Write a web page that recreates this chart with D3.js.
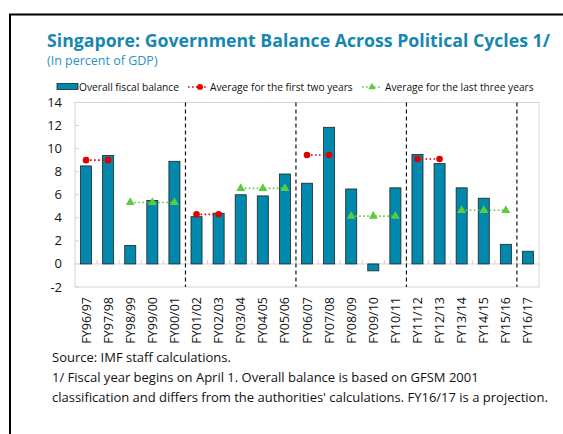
<!DOCTYPE html>
<html>
<head>
<meta charset="utf-8">
<script src="https://cdn.jsdelivr.net/npm/d3@7"></script>
<style>
body { margin: 0; background: #fff; }
svg { display: block; font-family: "Open Sans", "Noto Sans", sans-serif; }
</style>
</head>
<body>
<div id="chart"></div>
<script>
var years = ["FY96/97","FY97/98","FY98/99","FY99/00","FY00/01","FY01/02","FY02/03","FY03/04","FY04/05","FY05/06",
    "FY06/07","FY07/08","FY08/09","FY09/10","FY10/11","FY11/12","FY12/13","FY13/14","FY14/15","FY15/16","FY16/17"];
var balance = [8.5,9.4,1.6,5.5,8.9,4.1,4.4,6.0,5.9,7.8,7.0,11.85,6.5,-0.6,6.6,9.5,8.7,6.6,5.7,1.7,1.1];
// averages for the first two years of each cycle
var firstTwoYears = [["FY96/97","FY97/98"],["FY01/02","FY02/03"],["FY06/07","FY07/08"],["FY11/12","FY12/13"]];
var firstTwoAvg = [9.0,4.3,9.45,9.1];
// averages for the last three years of each cycle
var lastThreeYears = [["FY98/99","FY99/00","FY00/01"],["FY03/04","FY04/05","FY05/06"],["FY08/09","FY09/10","FY10/11"],["FY13/14","FY14/15","FY15/16"]];
var lastThreeAvg = [5.33,6.55,4.15,4.65];
var cycleStarts = ["FY01/02","FY06/07","FY11/12","FY16/17"];
var yTicks = [-2,0,2,4,6,8,10,12,14];

var W = 563, H = 434;
var pLeft = 75, pRight = 539, pTop = 102.5, pBottom = 287;
var blue = "#1687b1";

var svg = d3.select("#chart").append("svg")
    .attr("width", W)
    .attr("height", H);

// outer frame (top and left edges)
svg.append("path")
    .attr("d", "M10,434V14.5H563")
    .attr("fill", "none")
    .attr("stroke", "#000")
    .attr("stroke-width", 2);

svg.append("text")
    .attr("x", 47).attr("y", 47)
    .attr("fill", blue)
    .attr("font-size", 17.7)
    .attr("font-weight", "bold")
    .text("Singapore: Government Balance Across Political Cycles 1/");
svg.append("text")
    .attr("x", 47).attr("y", 65)
    .attr("fill", "#2b93c4")
    .attr("font-size", 12.5)
    .text("(In percent of GDP)");

var x = d3.scaleBand()
    .domain(years)
    .range([pLeft, pRight])
    .padding(0);
var y = d3.scaleLinear()
    .domain([-2, 14])
    .range([pBottom, pTop]);
var bw = x.bandwidth();
var cx = function(c) { return x(c) + bw / 2; };

// plot frame
svg.append("rect")
    .attr("x", pLeft).attr("y", pTop)
    .attr("width", pRight - pLeft).attr("height", pBottom - pTop)
    .attr("fill", "none")
    .attr("stroke", "#d4d4d4");

// y ticks and labels
svg.selectAll(".ytick")
    .data(yTicks)
    .enter().append("line")
    .attr("x1", pLeft).attr("x2", pLeft + 4)
    .attr("y1", function(d) { return y(d); })
    .attr("y2", function(d) { return y(d); })
    .attr("stroke", "#d4d4d4");
svg.selectAll(".ylab")
    .data(yTicks)
    .enter().append("text")
    .attr("x", 62)
    .attr("y", function(d) { return y(d) + 4.5; })
    .attr("text-anchor", "end")
    .attr("font-size", 13)
    .attr("fill", "#111")
    .text(function(d) { return d; });

// zero line with small category ticks
svg.append("line")
    .attr("x1", pLeft).attr("x2", pRight)
    .attr("y1", y(0)).attr("y2", y(0))
    .attr("stroke", "#d4d4d4");
svg.selectAll(".ztick")
    .data(years.slice(1))
    .enter().append("line")
    .attr("x1", function(d) { return x(d); })
    .attr("x2", function(d) { return x(d); })
    .attr("y1", y(0)).attr("y2", y(0) - 4)
    .attr("stroke", "#d4d4d4");

// bars
svg.selectAll(".bar")
    .data(years)
    .enter().append("rect")
    .attr("class", "bar")
    .attr("x", function(d) { return x(d) + bw * 0.25; })
    .attr("width", bw * 0.5)
    .attr("y", function(d, i) { return y(Math.max(0, balance[i])); })
    .attr("height", function(d, i) { return Math.abs(y(balance[i]) - y(0)); })
    .attr("fill", "#0088ad")
    .attr("stroke", "#222")
    .attr("stroke-width", 0.8);

// cycle separators
svg.selectAll(".cycle")
    .data(cycleStarts)
    .enter().append("line")
    .attr("x1", function(d) { return x(d); })
    .attr("x2", function(d) { return x(d); })
    .attr("y1", pTop).attr("y2", pBottom)
    .attr("stroke", "#111")
    .attr("stroke-width", 1.2)
    .attr("stroke-dasharray", "4,3");

// averages for first two years
firstTwoYears.forEach(function(cats, k) {
    svg.append("line")
        .attr("x1", cx(cats[0])).attr("x2", cx(cats[cats.length - 1]))
        .attr("y1", y(firstTwoAvg[k])).attr("y2", y(firstTwoAvg[k]))
        .attr("stroke", "#e00000")
        .attr("stroke-width", 1.6)
        .attr("stroke-dasharray", "1.6,2.4");
    svg.selectAll(null)
        .data(cats)
        .enter().append("circle")
        .attr("cx", function(d) { return cx(d); })
        .attr("cy", y(firstTwoAvg[k]))
        .attr("r", 3.3)
        .attr("fill", "#e00000");
});

// averages for last three years
var tri = d3.symbol().type(d3.symbolTriangle).size(34);
lastThreeYears.forEach(function(cats, k) {
    svg.append("line")
        .attr("x1", cx(cats[0])).attr("x2", cx(cats[cats.length - 1]))
        .attr("y1", y(lastThreeAvg[k])).attr("y2", y(lastThreeAvg[k]))
        .attr("stroke", "#5ccc3c")
        .attr("stroke-width", 1.6)
        .attr("stroke-dasharray", "1.6,2.4");
    svg.selectAll(null)
        .data(cats)
        .enter().append("path")
        .attr("d", tri)
        .attr("transform", function(d) { return "translate(" + cx(d) + "," + y(lastThreeAvg[k]) + ")"; })
        .attr("fill", "#5ccc3c");
});

// x labels
svg.selectAll(".xlab")
    .data(years)
    .enter().append("text")
    .attr("transform", function(d) { return "translate(" + (cx(d) + 4.5) + ",297) rotate(-90)"; })
    .attr("text-anchor", "end")
    .attr("font-size", 12.5)
    .attr("fill", "#111")
    .text(function(d) { return d; });

// legend
var lg = svg.append("g").attr("font-size", 10.2).attr("fill", "#111");
lg.append("rect")
    .attr("x", 57).attr("y", 83.5).attr("width", 21).attr("height", 6)
    .attr("fill", "#0088ad").attr("stroke", "#222").attr("stroke-width", 0.8);
lg.append("text").attr("x", 79).attr("y", 91).text("Overall fiscal balance");
lg.append("line").attr("x1", 188).attr("x2", 208).attr("y1", 87).attr("y2", 87)
    .attr("stroke", "#e00000").attr("stroke-width", 1.6).attr("stroke-dasharray", "1.6,2.4");
lg.append("circle").attr("cx", 200).attr("cy", 87).attr("r", 3).attr("fill", "#e00000");
lg.append("text").attr("x", 210).attr("y", 91).text("Average for the first two years");
lg.append("line").attr("x1", 362).attr("x2", 382).attr("y1", 87).attr("y2", 87)
    .attr("stroke", "#5ccc3c").attr("stroke-width", 1.6).attr("stroke-dasharray", "1.6,2.4");
lg.append("path").attr("d", d3.symbol().type(d3.symbolTriangle).size(24))
    .attr("transform", "translate(372,87)").attr("fill", "#5ccc3c");
lg.append("text").attr("x", 385).attr("y", 91).text("Average for the last three years");

// notes
var notes = ["Source: IMF staff calculations.",
    "1/ Fiscal year begins on April 1. Overall balance is based on GFSM 2001",
    "classification and differs from the authorities' calculations. FY16/17 is a projection."];
svg.selectAll(".note")
    .data(notes)
    .enter().append("text")
    .attr("x", 52)
    .attr("y", function(d, i) { return 362 + i * 20; })
    .attr("font-size", 13)
    .attr("fill", "#111")
    .text(function(d) { return d; });
</script>
</body>
</html>
